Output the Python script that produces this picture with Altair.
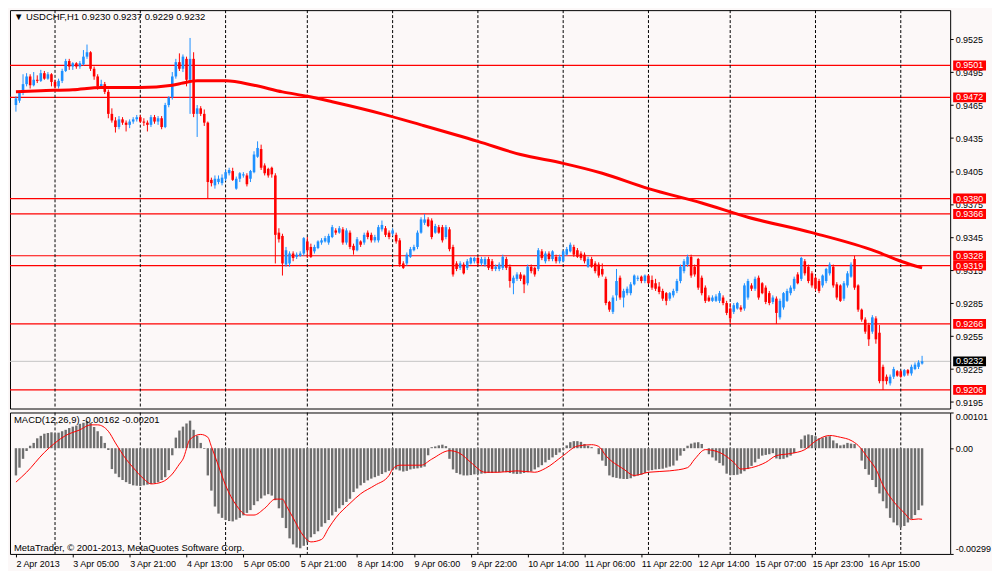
import json
import altair as alt
import pandas as pd

# ---------------- text ----------------
SYMBOL_TITLE = "\u25bc USDCHF,H1  0.9230 0.9237 0.9229 0.9232"
MACD_TITLE = "MACD(12,26,9) -0.00162 -0.00201"
COPYRIGHT = "MetaTrader, \u00a9 2001-2013, MetaQuotes Software Corp."

time_labels = ["2 Apr 2013", "3 Apr 05:00", "3 Apr 21:00", "4 Apr 13:00", "5 Apr 05:00",
               "5 Apr 21:00", "8 Apr 14:00", "9 Apr 06:00", "9 Apr 22:00", "10 Apr 14:00",
               "11 Apr 06:00", "11 Apr 22:00", "12 Apr 14:00", "15 Apr 07:00", "15 Apr 23:00",
               "16 Apr 15:00"]
label_bars = [0, 16, 32, 48, 64, 80, 96, 112, 128, 144, 160, 176, 192, 208, 224, 240]
day_start_bars = [11, 35, 59, 82, 106, 130, 154, 178, 201, 225, 249]

price_ticks = [0.9195, 0.9225, 0.9255, 0.9285, 0.9315, 0.9345, 0.9375, 0.9405,
               0.9435, 0.9465, 0.9495, 0.9525]
level_prices = [0.9501, 0.9472, 0.9380, 0.9366, 0.9328, 0.9319, 0.9266, 0.9206]
bid_price = [0.9232]
macd_ticks = [0.00101, 0.0, -0.00299]
macd_tick_labels = ["0.00101", "0.00", "-0.00299"]

# ---------------- H1 candles ----------------
opens = [
    0.9465, 0.9469, 0.9476, 0.9484, 0.9491, 0.9483, 0.9488, 0.9487, 0.9494, 0.9489,
    0.9493, 0.9486, 0.9482, 0.9487, 0.9496, 0.9505, 0.9500, 0.9503, 0.9500, 0.9502,
    0.9509, 0.9513, 0.9498, 0.9491, 0.9482, 0.9484, 0.9477, 0.9457, 0.9451, 0.9445,
    0.9452, 0.9449, 0.9447, 0.9450, 0.9452, 0.9454, 0.9450, 0.9449, 0.9447, 0.9454,
    0.9450, 0.9453, 0.9445, 0.9465, 0.9472, 0.9491, 0.9504, 0.9498, 0.9507, 0.9488,
    0.9507, 0.9457, 0.9462, 0.9457, 0.9449, 0.9397, 0.9392, 0.9395, 0.9394, 0.9398,
    0.9403, 0.9405, 0.9389, 0.9398, 0.9401, 0.9401, 0.9398, 0.9404, 0.9418, 0.9425,
    0.9410, 0.9407, 0.9408, 0.9401, 0.9349, 0.9346, 0.9320, 0.9321, 0.9330, 0.9327,
    0.9328, 0.9330, 0.9341, 0.9336, 0.9332, 0.9335, 0.9340, 0.9341, 0.9340, 0.9345,
    0.9351, 0.9349, 0.9352, 0.9340, 0.9349, 0.9337, 0.9333, 0.9341, 0.9340, 0.9349,
    0.9347, 0.9342, 0.9342, 0.9352, 0.9353, 0.9349, 0.9348, 0.9347, 0.9342, 0.9321,
    0.9321, 0.9327, 0.9333, 0.9336, 0.9349, 0.9358, 0.9361, 0.9360, 0.9349, 0.9354,
    0.9354, 0.9345, 0.9352, 0.9336, 0.9321, 0.9317, 0.9320, 0.9317, 0.9321, 0.9323,
    0.9326, 0.9321, 0.9320, 0.9325, 0.9323, 0.9316, 0.9316, 0.9317, 0.9325, 0.9318,
    0.9303, 0.9307, 0.9311, 0.9310, 0.9303, 0.9318, 0.9317, 0.9316, 0.9332, 0.9323,
    0.9330, 0.9325, 0.9327, 0.9323, 0.9323, 0.9329, 0.9332, 0.9336, 0.9333, 0.9330,
    0.9329, 0.9318, 0.9325, 0.9321, 0.9320, 0.9316, 0.9307, 0.9286, 0.9277, 0.9292,
    0.9308, 0.9290, 0.9294, 0.9294, 0.9302, 0.9307, 0.9309, 0.9305, 0.9310, 0.9306,
    0.9303, 0.9300, 0.9296, 0.9294, 0.9289, 0.9292, 0.9296, 0.9305, 0.9314, 0.9320,
    0.9327, 0.9318, 0.9325, 0.9308, 0.9299, 0.9290, 0.9287, 0.9287, 0.9287, 0.9290,
    0.9285, 0.9280, 0.9277, 0.9280, 0.9281, 0.9280, 0.9290, 0.9301, 0.9298, 0.9308,
    0.9303, 0.9299, 0.9294, 0.9286, 0.9289, 0.9272, 0.9281, 0.9287, 0.9294, 0.9298,
    0.9311, 0.9307, 0.9323, 0.9318, 0.9312, 0.9308, 0.9305, 0.9301, 0.9305, 0.9312,
    0.9318, 0.9302, 0.9301, 0.9289, 0.9301, 0.9309, 0.9325, 0.9301, 0.9279, 0.9270,
    0.9265, 0.9259, 0.9271, 0.9258, 0.9227, 0.9218, 0.9212, 0.9218, 0.9223, 0.9223,
    0.9219, 0.9224, 0.9221, 0.9225, 0.9227, 0.9230,
]
highs = [
    0.9473, 0.9478, 0.9493, 0.9494, 0.9493, 0.9495, 0.9492, 0.9497, 0.9496, 0.9495,
    0.9494, 0.9488, 0.9489, 0.9498, 0.9507, 0.9507, 0.9504, 0.9504, 0.9505, 0.9515,
    0.9520, 0.9514, 0.9500, 0.9493, 0.9488, 0.9486, 0.9479, 0.9462, 0.9454, 0.9455,
    0.9454, 0.9451, 0.9452, 0.9454, 0.9456, 0.9456, 0.9453, 0.9451, 0.9456, 0.9456,
    0.9455, 0.9455, 0.9467, 0.9473, 0.9495, 0.9507, 0.9512, 0.9511, 0.9509, 0.9526,
    0.9513, 0.9465, 0.9464, 0.9461, 0.9450, 0.9399, 0.9401, 0.9401, 0.9402, 0.9406,
    0.9408, 0.9408, 0.9400, 0.9404, 0.9404, 0.9403, 0.9406, 0.9423, 0.9432, 0.9429,
    0.9412, 0.9408, 0.9409, 0.9403, 0.9353, 0.9348, 0.9336, 0.9332, 0.9332, 0.9331,
    0.9332, 0.9345, 0.9345, 0.9339, 0.9338, 0.9342, 0.9344, 0.9346, 0.9348, 0.9356,
    0.9353, 0.9355, 0.9354, 0.9353, 0.9351, 0.9339, 0.9345, 0.9342, 0.9349, 0.9351,
    0.9349, 0.9347, 0.9356, 0.9360, 0.9355, 0.9351, 0.9353, 0.9349, 0.9344, 0.9323,
    0.9331, 0.9336, 0.9338, 0.9351, 0.9363, 0.9366, 0.9363, 0.9362, 0.9357, 0.9356,
    0.9356, 0.9356, 0.9354, 0.9338, 0.9323, 0.9323, 0.9322, 0.9325, 0.9327, 0.9327,
    0.9327, 0.9327, 0.9327, 0.9327, 0.9325, 0.9320, 0.9322, 0.9329, 0.9327, 0.9320,
    0.9310, 0.9313, 0.9313, 0.9311, 0.9320, 0.9320, 0.9318, 0.9335, 0.9334, 0.9332,
    0.9332, 0.9333, 0.9329, 0.9329, 0.9333, 0.9336, 0.9340, 0.9338, 0.9335, 0.9332,
    0.9331, 0.9327, 0.9327, 0.9323, 0.9322, 0.9321, 0.9309, 0.9287, 0.9292, 0.9316,
    0.9310, 0.9298, 0.9300, 0.9304, 0.9311, 0.9310, 0.9310, 0.9311, 0.9311, 0.9310,
    0.9307, 0.9304, 0.9298, 0.9295, 0.9295, 0.9298, 0.9307, 0.9320, 0.9325, 0.9329,
    0.9329, 0.9320, 0.9326, 0.9310, 0.9301, 0.9292, 0.9292, 0.9293, 0.9296, 0.9292,
    0.9287, 0.9285, 0.9285, 0.9286, 0.9283, 0.9303, 0.9307, 0.9303, 0.9309, 0.9310,
    0.9304, 0.9301, 0.9296, 0.9292, 0.9291, 0.9289, 0.9295, 0.9298, 0.9301, 0.9309,
    0.9313, 0.9327, 0.9325, 0.9320, 0.9314, 0.9310, 0.9307, 0.9311, 0.9317, 0.9322,
    0.9320, 0.9304, 0.9302, 0.9305, 0.9314, 0.9322, 0.9328, 0.9302, 0.9280, 0.9272,
    0.9267, 0.9274, 0.9273, 0.9265, 0.9229, 0.9220, 0.9220, 0.9227, 0.9224, 0.9224,
    0.9225, 0.9225, 0.9229, 0.9231, 0.9233, 0.9237,
]
lows = [
    0.9459, 0.9467, 0.9474, 0.9482, 0.9480, 0.9482, 0.9485, 0.9486, 0.9488, 0.9488,
    0.9482, 0.9480, 0.9480, 0.9485, 0.9495, 0.9497, 0.9497, 0.9498, 0.9498, 0.9501,
    0.9507, 0.9496, 0.9488, 0.9479, 0.9480, 0.9475, 0.9453, 0.9449, 0.9440, 0.9443,
    0.9447, 0.9441, 0.9444, 0.9448, 0.9450, 0.9449, 0.9446, 0.9441, 0.9445, 0.9448,
    0.9447, 0.9443, 0.9444, 0.9463, 0.9470, 0.9489, 0.9496, 0.9495, 0.9482, 0.9457,
    0.9454, 0.9436, 0.9455, 0.9446, 0.9380, 0.9391, 0.9389, 0.9393, 0.9392, 0.9396,
    0.9401, 0.9396, 0.9388, 0.9395, 0.9399, 0.9391, 0.9395, 0.9403, 0.9417, 0.9406,
    0.9401, 0.9399, 0.9399, 0.9321, 0.9340, 0.9310, 0.9318, 0.9318, 0.9323, 0.9325,
    0.9327, 0.9328, 0.9326, 0.9326, 0.9330, 0.9334, 0.9338, 0.9340, 0.9338, 0.9344,
    0.9347, 0.9348, 0.9338, 0.9338, 0.9334, 0.9329, 0.9332, 0.9336, 0.9338, 0.9343,
    0.9340, 0.9340, 0.9340, 0.9350, 0.9345, 0.9343, 0.9346, 0.9339, 0.9318, 0.9316,
    0.9319, 0.9326, 0.9332, 0.9334, 0.9348, 0.9356, 0.9354, 0.9343, 0.9348, 0.9348,
    0.9340, 0.9343, 0.9332, 0.9309, 0.9314, 0.9315, 0.9311, 0.9315, 0.9320, 0.9321,
    0.9319, 0.9319, 0.9318, 0.9315, 0.9314, 0.9314, 0.9314, 0.9315, 0.9315, 0.9299,
    0.9293, 0.9305, 0.9305, 0.9294, 0.9301, 0.9312, 0.9309, 0.9314, 0.9324, 0.9321,
    0.9323, 0.9323, 0.9321, 0.9321, 0.9322, 0.9328, 0.9331, 0.9327, 0.9326, 0.9324,
    0.9321, 0.9317, 0.9317, 0.9312, 0.9308, 0.9309, 0.9283, 0.9277, 0.9275, 0.9287,
    0.9288, 0.9281, 0.9292, 0.9292, 0.9301, 0.9305, 0.9303, 0.9303, 0.9302, 0.9297,
    0.9296, 0.9293, 0.9287, 0.9283, 0.9287, 0.9290, 0.9294, 0.9303, 0.9312, 0.9318,
    0.9308, 0.9309, 0.9297, 0.9292, 0.9285, 0.9286, 0.9286, 0.9286, 0.9285, 0.9283,
    0.9274, 0.9266, 0.9275, 0.9279, 0.9277, 0.9278, 0.9288, 0.9296, 0.9296, 0.9288,
    0.9293, 0.9284, 0.9283, 0.9284, 0.9266, 0.9270, 0.9279, 0.9286, 0.9292, 0.9296,
    0.9302, 0.9305, 0.9310, 0.9303, 0.9299, 0.9296, 0.9294, 0.9299, 0.9303, 0.9310,
    0.9299, 0.9288, 0.9286, 0.9287, 0.9299, 0.9308, 0.9297, 0.9277, 0.9268, 0.9257,
    0.9246, 0.9257, 0.9248, 0.9212, 0.9206, 0.9211, 0.9210, 0.9216, 0.9218, 0.9217,
    0.9218, 0.9219, 0.9219, 0.9224, 0.9225, 0.9229,
]
closes = [
    0.9471, 0.9476, 0.9484, 0.9491, 0.9483, 0.9488, 0.9487, 0.9494, 0.9489, 0.9493,
    0.9486, 0.9482, 0.9487, 0.9496, 0.9505, 0.9500, 0.9503, 0.9500, 0.9503, 0.9509,
    0.9513, 0.9498, 0.9491, 0.9482, 0.9484, 0.9477, 0.9457, 0.9451, 0.9445, 0.9452,
    0.9449, 0.9447, 0.9450, 0.9452, 0.9454, 0.9450, 0.9449, 0.9447, 0.9454, 0.9450,
    0.9453, 0.9445, 0.9465, 0.9472, 0.9491, 0.9504, 0.9498, 0.9509, 0.9488, 0.9507,
    0.9457, 0.9462, 0.9457, 0.9449, 0.9395, 0.9394, 0.9398, 0.9398, 0.9399, 0.9404,
    0.9406, 0.9397, 0.9398, 0.9403, 0.9402, 0.9393, 0.9405, 0.9420, 0.9426, 0.9408,
    0.9403, 0.9401, 0.9402, 0.9347, 0.9343, 0.9321, 0.9333, 0.9330, 0.9326, 0.9329,
    0.9330, 0.9344, 0.9333, 0.9327, 0.9336, 0.9341, 0.9342, 0.9344, 0.9346, 0.9354,
    0.9349, 0.9353, 0.9340, 0.9351, 0.9336, 0.9333, 0.9343, 0.9338, 0.9347, 0.9345,
    0.9342, 0.9345, 0.9354, 0.9356, 0.9347, 0.9345, 0.9351, 0.9341, 0.9320, 0.9317,
    0.9329, 0.9334, 0.9336, 0.9349, 0.9361, 0.9361, 0.9355, 0.9345, 0.9355, 0.9349,
    0.9342, 0.9354, 0.9334, 0.9311, 0.9316, 0.9321, 0.9312, 0.9323, 0.9326, 0.9326,
    0.9321, 0.9325, 0.9325, 0.9317, 0.9316, 0.9318, 0.9320, 0.9327, 0.9317, 0.9305,
    0.9308, 0.9311, 0.9307, 0.9302, 0.9318, 0.9314, 0.9311, 0.9333, 0.9326, 0.9330,
    0.9325, 0.9332, 0.9323, 0.9327, 0.9332, 0.9334, 0.9338, 0.9329, 0.9327, 0.9326,
    0.9323, 0.9325, 0.9318, 0.9314, 0.9310, 0.9311, 0.9285, 0.9279, 0.9290, 0.9305,
    0.9290, 0.9296, 0.9298, 0.9302, 0.9310, 0.9308, 0.9305, 0.9310, 0.9303, 0.9299,
    0.9298, 0.9295, 0.9289, 0.9287, 0.9294, 0.9296, 0.9305, 0.9318, 0.9323, 0.9327,
    0.9310, 0.9311, 0.9299, 0.9294, 0.9287, 0.9287, 0.9290, 0.9291, 0.9294, 0.9285,
    0.9276, 0.9271, 0.9283, 0.9285, 0.9279, 0.9301, 0.9305, 0.9298, 0.9307, 0.9290,
    0.9294, 0.9286, 0.9285, 0.9290, 0.9276, 0.9287, 0.9294, 0.9296, 0.9299, 0.9307,
    0.9303, 0.9326, 0.9312, 0.9305, 0.9301, 0.9298, 0.9296, 0.9310, 0.9316, 0.9320,
    0.9301, 0.9290, 0.9287, 0.9303, 0.9312, 0.9320, 0.9299, 0.9279, 0.9270, 0.9259,
    0.9252, 0.9272, 0.9252, 0.9214, 0.9214, 0.9214, 0.9218, 0.9225, 0.9219, 0.9218,
    0.9224, 0.9221, 0.9227, 0.9229, 0.9231, 0.9232,
]

# moving average (read at these bars)
ma_bars = [0, 7, 16, 24, 35, 44, 47, 51, 59, 67, 75, 82, 89, 103, 114, 130, 142, 154,
           165, 178, 193, 206, 224, 242, 249, 255]
ma_values = [0.9477, 0.9478, 0.9479, 0.9481, 0.9481, 0.9483, 0.9485, 0.9487, 0.9487,
             0.9483, 0.9477, 0.9473, 0.9468, 0.9457, 0.9447, 0.9432, 0.9420, 0.9412,
             0.9403, 0.9389, 0.9376, 0.9363, 0.9349, 0.9332, 0.9323, 0.9317]

# MACD main (histogram), one per bar
macd_hist = [
    -0.00077, -0.00055, -0.00030, -0.00008, 0.00007, 0.00015, 0.00028, 0.00035, 0.00041, 0.00043,
    0.00045, 0.00042, 0.00044, 0.00048, 0.00052, 0.00057, 0.00061, 0.00064, 0.00069, 0.00072,
    0.00077, 0.00072, 0.00060, 0.00048, 0.00034, 0.00015, -0.00005, -0.00059, -0.00072, -0.00082,
    -0.00090, -0.00096, -0.00101, -0.00105, -0.00106, -0.00107, -0.00105, -0.00103, -0.00101, -0.00099,
    -0.00096, -0.00090, -0.00082, -0.00062, -0.00020, 0.00030, 0.00050, 0.00061, 0.00070, 0.00078,
    0.00052, 0.00035, 0.00015, -0.00002, -0.00077, -0.00120, -0.00165, -0.00185, -0.00197, -0.00203,
    -0.00206, -0.00207, -0.00202, -0.00197, -0.00190, -0.00183, -0.00175, -0.00161, -0.00150, -0.00142,
    -0.00134, -0.00130, -0.00134, -0.00147, -0.00170, -0.00197, -0.00226, -0.00255, -0.00272, -0.00281,
    -0.00283, -0.00276, -0.00266, -0.00252, -0.00243, -0.00235, -0.00222, -0.00212, -0.00203, -0.00190,
    -0.00180, -0.00170, -0.00161, -0.00152, -0.00143, -0.00124, -0.00114, -0.00105, -0.00098, -0.00091,
    -0.00086, -0.00082, -0.00078, -0.00073, -0.00068, -0.00064, -0.00062, -0.00060, -0.00063, -0.00066,
    -0.00064, -0.00060, -0.00058, -0.00057, -0.00055, -0.00052, -0.00020, 0.00003, 0.00005, 0.00008,
    0.00010, 0.00006, -0.00030, -0.00060, -0.00070, -0.00074, -0.00077, -0.00077, -0.00076, -0.00074,
    -0.00073, -0.00072, -0.00071, -0.00070, -0.00070, -0.00069, -0.00068, -0.00067, -0.00068, -0.00070,
    -0.00072, -0.00073, -0.00072, -0.00070, -0.00068, -0.00066, -0.00060, -0.00054, -0.00048, -0.00040,
    -0.00033, -0.00026, -0.00019, -0.00012, -0.00004, 0.00008, 0.00017, 0.00020, 0.00020, 0.00018,
    0.00012, 0.00007, 0.00003, 0.00000, -0.00017, -0.00035, -0.00050, -0.00077, -0.00082, -0.00084,
    -0.00086, -0.00087, -0.00087, -0.00085, -0.00080, -0.00077, -0.00075, -0.00070, -0.00063, -0.00062,
    -0.00060, -0.00059, -0.00058, -0.00055, -0.00052, -0.00049, -0.00035, -0.00021, -0.00008, 0.00007,
    0.00013, 0.00016, 0.00017, 0.00012, 0.00000, -0.00017, -0.00026, -0.00035, -0.00042, -0.00049,
    -0.00072, -0.00076, -0.00076, -0.00075, -0.00072, -0.00065, -0.00059, -0.00050, -0.00040, -0.00030,
    -0.00021, -0.00019, -0.00017, -0.00014, -0.00029, -0.00031, -0.00030, -0.00026, -0.00021, -0.00014,
    0.00000, 0.00025, 0.00036, 0.00039, 0.00037, 0.00034, 0.00028, 0.00030, 0.00033, 0.00034,
    0.00022, 0.00014, 0.00008, 0.00010, 0.00015, 0.00013, 0.00012, 0.00000, -0.00035, -0.00059,
    -0.00075, -0.00090, -0.00110, -0.00128, -0.00150, -0.00170, -0.00197, -0.00210, -0.00218, -0.00224,
    -0.00220, -0.00210, -0.00200, -0.00189, -0.00175, -0.00162,
]

# MACD signal line (read at these bars)
signal_bars = [0, 3, 8, 11, 14, 18, 21, 23, 26, 28, 31, 33, 36, 38, 41, 44, 46, 47, 49, 52,
               54, 55, 57, 59, 62, 65, 67, 70, 73, 75, 76, 78, 81, 83, 86, 88, 90, 94, 97, 101,
               105, 106, 108, 114, 117, 122, 125, 128, 132, 136, 141, 146, 149, 154, 158, 162,
               164, 166, 171, 174, 178, 184, 189, 191, 194, 198, 202, 204, 207, 211, 214, 218,
               222, 225, 229, 232, 235, 237, 240, 242, 244, 247, 250, 252, 254, 255]
signal_values = [-0.00096, -0.00068, -0.00012, 0.00015, 0.00036, 0.00052, 0.00066, 0.00066,
                 0.00048, 0.00015, -0.00031, -0.00055, -0.00087, -0.00101, -0.00096, -0.00073,
                 -0.00045, -0.00031, 0.00025, 0.00039, 0.00031, 0.00005, -0.00050, -0.00105,
                 -0.00161, -0.00189, -0.00189, -0.00170, -0.00144, -0.00144, -0.00161, -0.00197,
                 -0.00249, -0.00265, -0.00258, -0.00226, -0.00197, -0.00156, -0.00129, -0.00105,
                 -0.00077, -0.00059, -0.00048, -0.00048, -0.00031, -0.00007, -0.00015, -0.00040,
                 -0.00068, -0.00068, -0.00064, -0.00068, -0.00057, -0.00021, 0.00006, 0.00010,
                 0.00005, -0.00021, -0.00059, -0.00077, -0.00068, -0.00064, -0.00055, -0.00031,
                 -0.00004, -0.00012, -0.00040, -0.00059, -0.00055, -0.00040, -0.00021, -0.00015,
                 -0.00004, 0.00020, 0.00036, 0.00031, 0.00022, 0.00008, -0.00031, -0.00059,
                 -0.00105, -0.00151, -0.00183, -0.00202, -0.00200, -0.00201]

# ---------------- styling ----------------
FONT = "Liberation Sans"
BG = "#fcf8f8"
BLUE = "#1e90ff"
RED = "#ff0000"
HIST_GRAY = "#6e6e6e"
W = 944
H_MAIN = 400
H_MACD = 142

x_scale = alt.Scale(domain=[-0.27, 261.5], nice=False, zero=False)
y_main = alt.Scale(domain=[0.91891, 0.95513], nice=False, zero=False)
y_macd = alt.Scale(domain=[-0.00299, 0.00101], nice=False, zero=False)

candles = pd.DataFrame({"bar": list(range(len(closes))), "open": opens, "high": highs,
                        "low": lows, "close": closes})
candles["dir"] = ["up" if c >= o else "down" for o, c in zip(opens, closes)]
days = pd.DataFrame({"bar": day_start_bars})
levels = pd.DataFrame({"price": level_prices})
bid = pd.DataFrame({"price": bid_price})
ma = pd.DataFrame({"bar": ma_bars, "ma": ma_values})
macd = pd.DataFrame({"bar": list(range(len(macd_hist))), "macd": macd_hist,
                     "zero": [0.0] * len(macd_hist)})
signal = pd.DataFrame({"bar": signal_bars, "signal": signal_values})

color_dir = alt.Color("dir:N", scale=alt.Scale(domain=["up", "down"], range=[BLUE, RED]),
                      legend=None)
BOX = "M-1,-0.3L1,-0.3L1,0.3L-1,0.3Z"
BOX_X = W + 19.5

main_axis = alt.Axis(orient="right", values=price_ticks, format=".4f", title=None,
                     grid=False, domain=False, tickSize=3, labelPadding=2)

x_label_expr = f"{json.dumps(time_labels)}[indexof({json.dumps(label_bars)}, datum.value)]"
x_axis = alt.Axis(orient="bottom", values=label_bars, labelExpr=x_label_expr, grid=False,
                  domain=False, tickSize=3, labelAlign="left", labelPadding=3, title=None,
                  labelOverlap=False, labelFlush=False, labelBound=False)
macd_label_expr = (f"{json.dumps(macd_tick_labels)}"
                   f"[indexof({json.dumps(macd_ticks)}, datum.value)]")
macd_axis = alt.Axis(orient="right", values=macd_ticks, labelExpr=macd_label_expr, grid=False,
                     domain=False, tickSize=3, labelPadding=2, labelFlush=True, title=None)


def xm():
    return alt.X("bar:Q", scale=x_scale, axis=None, title=None)


def xb():
    return alt.X("bar:Q", scale=x_scale, axis=x_axis, title=None)


def yp(field):
    return alt.Y(f"{field}:Q", scale=y_main, axis=main_axis, title=None)


def ym(field):
    return alt.Y(f"{field}:Q", scale=y_macd, axis=macd_axis, title=None)


day_rules = alt.Chart(days).mark_rule(color="black", strokeDash=[3, 2], strokeWidth=1).encode(
    x=xm())
level_rules = alt.Chart(levels).mark_rule(color=RED, strokeWidth=1.2).encode(y=yp("price"))
bid_rule = alt.Chart(bid).mark_rule(color="#c4c4c4", strokeWidth=1).encode(y=yp("price"))
wicks = alt.Chart(candles).mark_rule(strokeWidth=1).encode(
    x=xm(), y=yp("low"), y2="high:Q", color=color_dir)
bodies = alt.Chart(candles).mark_bar(size=2.6).encode(
    x=xm(), y=yp("open"), y2="close:Q", color=color_dir)
ma_line = alt.Chart(ma).mark_line(color=RED, strokeWidth=3, interpolate="monotone").encode(
    x=xm(), y=yp("ma"))
level_boxes = alt.Chart(levels).mark_point(shape=BOX, size=33 * 33, filled=True, opacity=1,
                                           color=RED, strokeWidth=0).encode(
    x=alt.value(BOX_X), y=yp("price"))
level_text = alt.Chart(levels).mark_text(color="white", font=FONT, fontSize=9, align="center",
                                         baseline="middle").encode(
    x=alt.value(BOX_X), y=yp("price"), text=alt.Text("price:Q", format=".4f"))
bid_box = alt.Chart(bid).mark_point(shape=BOX, size=33 * 33, filled=True, opacity=1,
                                    color="black", strokeWidth=0).encode(
    x=alt.value(BOX_X), y=yp("price"))
bid_text = alt.Chart(bid).mark_text(color="white", font=FONT, fontSize=9, align="center",
                                    baseline="middle").encode(
    x=alt.value(BOX_X), y=yp("price"), text=alt.Text("price:Q", format=".4f"))
title_text = alt.Chart(pd.DataFrame({"t": [SYMBOL_TITLE]})).mark_text(
    align="left", baseline="middle", font=FONT, fontSize=9.5, color="black").encode(
    x=alt.value(4), y=alt.value(7), text="t:N")

main = alt.layer(level_rules, day_rules, bid_rule, wicks, bodies, ma_line,
                 level_boxes, level_text, bid_box, bid_text, title_text).properties(
    width=W, height=H_MAIN)

# ---------------- MACD panel ----------------
hist = alt.Chart(macd).mark_bar(size=2.4, color=HIST_GRAY).encode(
    x=xb(), y=ym("macd"), y2="zero:Q")
sig_line = alt.Chart(signal).mark_line(color=RED, strokeWidth=1, interpolate="monotone").encode(
    x=xb(), y=ym("signal"))
macd_days = alt.Chart(days).mark_rule(color="black", strokeDash=[3, 2], strokeWidth=1).encode(
    x=xb())
macd_title = alt.Chart(pd.DataFrame({"t": [MACD_TITLE]})).mark_text(
    align="left", baseline="middle", font=FONT, fontSize=9.5, color="black").encode(
    x=alt.value(4), y=alt.value(8), text="t:N")
copyright_text = alt.Chart(pd.DataFrame({"t": [COPYRIGHT]})).mark_text(
    align="left", baseline="middle", font=FONT, fontSize=9.5, color="black").encode(
    x=alt.value(4), y=alt.value(H_MACD - 6), text="t:N")

macd_panel = alt.layer(macd_days, hist, sig_line, macd_title, copyright_text).properties(
    width=W, height=H_MACD)

chart = alt.vconcat(main, macd_panel, spacing=2).resolve_scale(
    y="independent", color="independent").properties(
    padding={"left": 0, "top": 0, "right": 0, "bottom": 0}).configure(
    background=BG).configure_view(stroke="#000000", strokeWidth=1, fill=BG).configure_axis(
    labelFont=FONT, labelFontSize=9, labelColor="#000000", tickColor="#000000")

chart.save("out.html", embed_options={"renderer": "svg", "actions": False})
